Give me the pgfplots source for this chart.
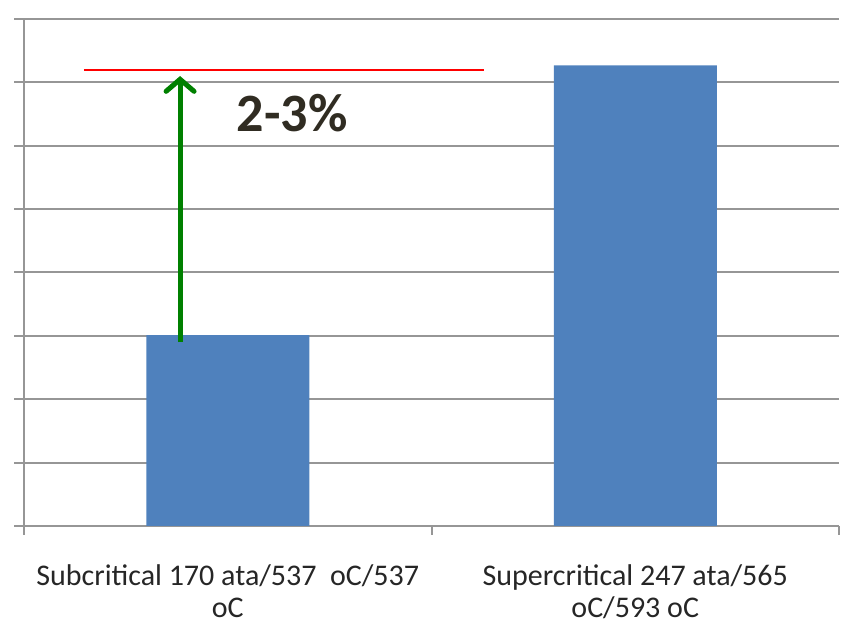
\documentclass[border=0pt]{standalone}
\usepackage{pgfplots}
\pgfplotsset{compat=1.18}
\usepackage{fontspec}
\setmainfont{Carlito}
\usetikzlibrary{arrows.meta}
\definecolor{barblue}{RGB}{79,129,189}
\definecolor{gridgray}{RGB}{150,150,150}
\definecolor{txtdark}{RGB}{48,44,34}
\definecolor{arrgreen}{RGB}{0,128,0}
\begin{document}
\begin{tikzpicture}
\begin{axis}[
  scale only axis,
  width=815pt, height=507pt,
  xmin=-0.5, xmax=1.5, ymin=0, ymax=8,
  axis x line*=bottom, axis y line*=left,
  axis line style={gridgray, line width=2pt},
  ytick={0,1,...,8}, yticklabels={},
  ymajorgrids, grid style={gridgray, line width=2pt},
  ytick style={gridgray, line width=2pt},
  tick align=outside,
  major tick length=10pt,
  xtick={0,1},
  xticklabels={{Subcritical 170 ata/537\ \ oC/537\\oC},{Supercritical 247 ata/565\\oC/593 oC}},
  xtick style={draw=none},
  extra x ticks={-0.5,0.5,1.5},
  extra x tick labels={},
  extra x tick style={grid=none, xtick style={draw=gridgray, line width=2pt}, major tick length=9pt},
  xticklabel style={align=center, font=\fontsize{30}{32}\selectfont, text=black!85, yshift=-25pt},
  clip=false,
]
\addplot[ybar, bar width=163pt, fill=barblue, draw=none] coordinates {(0,3.01) (1,7.27)};
\addplot[red, line width=2pt] coordinates {(-0.353,7.19) (0.629,7.19)};
\draw[arrgreen, line width=5pt, -{Straight Barb[length=12pt, width=28pt, line cap=round]}]
  (axis cs:-0.117,2.90) -- (axis cs:-0.117,7.10);
\node[font=\bfseries\fontsize{54}{58}\selectfont, text=txtdark] at (axis cs:0.158,6.52) {2-3\%};
\coordinate (sw) at (axis cs:-0.5,0);
\end{axis}
\pgfresetboundingbox
\useasboundingbox ([xshift=-24pt,yshift=-102pt]sw) rectangle ([xshift=817pt,yshift=526pt]sw);
\end{tikzpicture}
\end{document}
